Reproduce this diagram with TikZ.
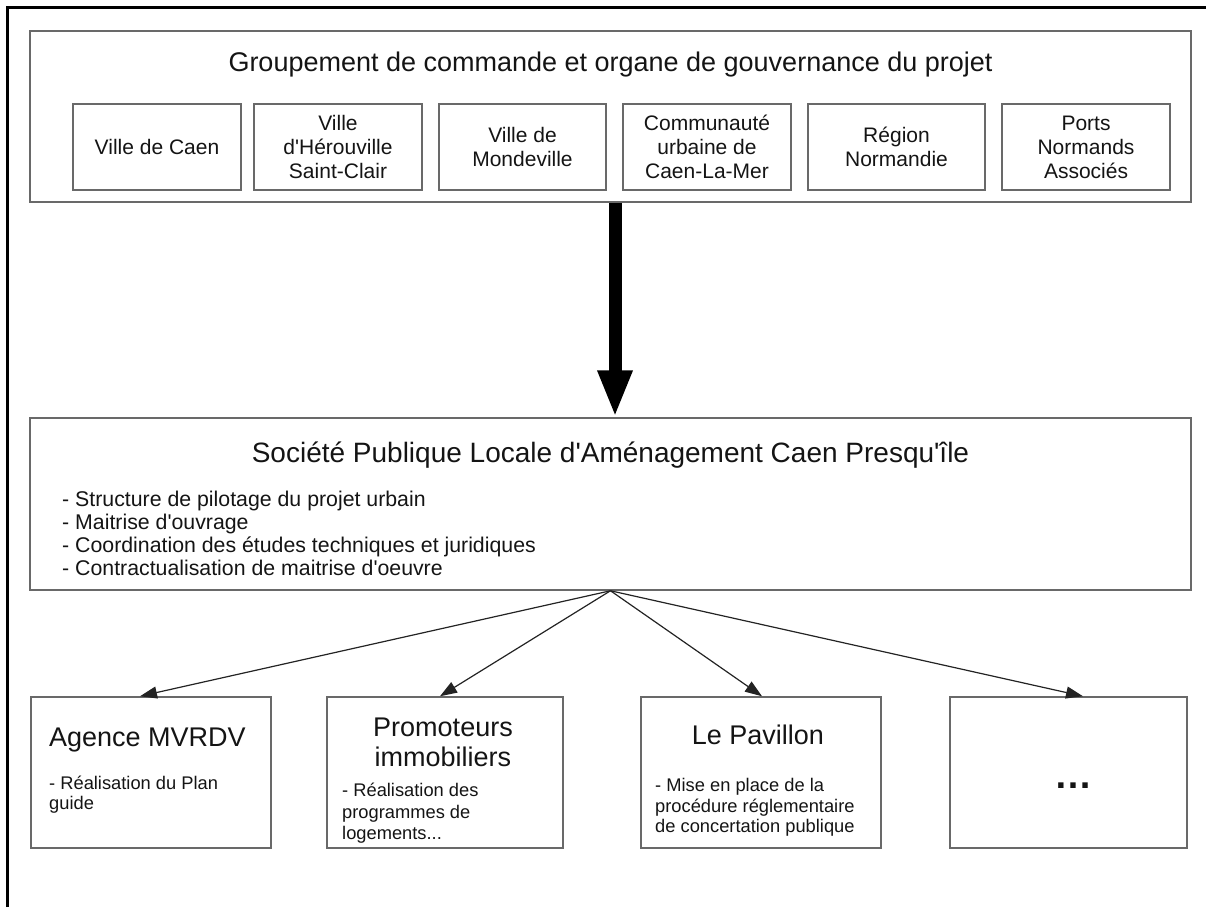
\documentclass[tikz,border=0pt]{standalone}
\usepackage{fontspec}
\setmainfont{Liberation Sans}
\usetikzlibrary{arrows.meta,calc}
\definecolor{boxgray}{RGB}{105,105,105}
\definecolor{txt}{RGB}{20,20,20}
\definecolor{arrowc}{RGB}{35,35,35}
\newcommand\fsz[2]{\fontsize{#1}{#2}\selectfont}
\newcommand\q{\textquotesingle}
\begin{document}
\begin{tikzpicture}[x=1pt,y=-1pt,
  box/.style={draw=boxgray,line width=1.5pt,rectangle,inner sep=0pt},
  lbl/.style={inner sep=0pt,text=txt},
  smallbox/.style={box,minimum height=86pt,align=center,text=txt,font=\fsz{21}{24}},
  bottombox/.style={box,minimum height=151pt},
  bigarrow/.style={draw=black,line width=13pt,-{Triangle[length=47pt,width=32pt]}},
  thinarrow/.style={draw=arrowc,line width=1.2pt,-{Triangle[length=17pt,width=12pt]}}
]
\useasboundingbox (0,0) rectangle (1206,907);
% outer frame
\draw[line width=3pt,line join=miter] (7.5,907) -- (7.5,8) -- (1206,8);

% top group
\node[box,minimum width=1161pt,minimum height=171pt] (grp) at (610.5,116.5) {};
\node[lbl,font=\fsz{27}{30}] (grptitle) at (610.5,65) {Groupement de commande et organe de gouvernance du projet};
\node[smallbox,minimum width=168pt] (b1) at (157,147) {Ville de Caen};
\node[smallbox,minimum width=168pt] (b2) at (338,147) {Ville\\d\q Hérouville\\Saint-Clair};
\node[smallbox,minimum width=167pt] (b3) at (522.5,147) {Ville de\\Mondeville};
\node[smallbox,minimum width=168pt] (b4) at (707,147) {Communauté\\urbaine de\\Caen-La-Mer};
\node[smallbox,minimum width=177pt] (b5) at (896.5,147) {Région\\Normandie};
\node[smallbox,minimum width=168pt] (b6) at (1086,147) {Ports\\Normands\\Associés};

% middle box
\node[box,minimum width=1161pt,minimum height=172pt] (mid) at (610.5,504) {};
\node[lbl,font=\fsz{28}{30}] (midtitle) at (610.5,455) {Société Publique Locale d\q Aménagement Caen Presqu\q île};
\node[lbl,font=\fsz{21.3}{22.7},align=left,anchor=base west] (midlist) at (62,575)
  {- Structure de pilotage du projet urbain\\- Maitrise d\q ouvrage\\- Coordination des études techniques et juridiques\\- Contractualisation de maitrise d\q oeuvre};

% bottom boxes
\node[bottombox,minimum width=240pt] (A) at (151,772.5) {};
\node[bottombox,minimum width=236pt] (B) at (445,772.5) {};
\node[bottombox,minimum width=240pt] (C) at (761,772.5) {};
\node[bottombox,minimum width=237pt] (D) at (1068.5,772.5) {};

\node[lbl,font=\fsz{27}{30},anchor=west] (Atitle) at (49,740) {Agence MVRDV};
\node[lbl,font=\fsz{18.3}{20},align=left,anchor=base west] (Abody) at (49,809.5) {- Réalisation du Plan\\guide};

\node[lbl,font=\fsz{27}{30},align=center] (Btitle) at (443,742) {Promoteurs\\immobiliers};
\node[lbl,font=\fsz{18.3}{21.5},align=left,anchor=base west] (Bbody) at (342,839.5) {- Réalisation des\\programmes de\\logements...};

\node[lbl,font=\fsz{27}{30}] (Ctitle) at (758,735) {Le Pavillon};
\node[lbl,font=\fsz{18.3}{20.5},align=left,anchor=base west] (Cbody) at (655,832.5) {- Mise en place de la\\procédure réglementaire\\de concertation publique};

\node[lbl,font=\fsz{38}{40}\bfseries,anchor=base] (Ddots) at (1073,788) {…};

% connectors
\draw[bigarrow] ($(grp.south)+(4.5,0)$) -- ($(mid.north)+(4.5,0)$);
\draw[thinarrow] (mid.south) -- ($(A.north)+(-11,0)$);
\draw[thinarrow] (mid.south) -- ($(B.north)+(-5,0)$);
\draw[thinarrow] (mid.south) -- ($(C.north)+(1,0)$);
\draw[thinarrow] (mid.south) -- ($(D.north)+(14.5,0)$);
\end{tikzpicture}
\end{document}
